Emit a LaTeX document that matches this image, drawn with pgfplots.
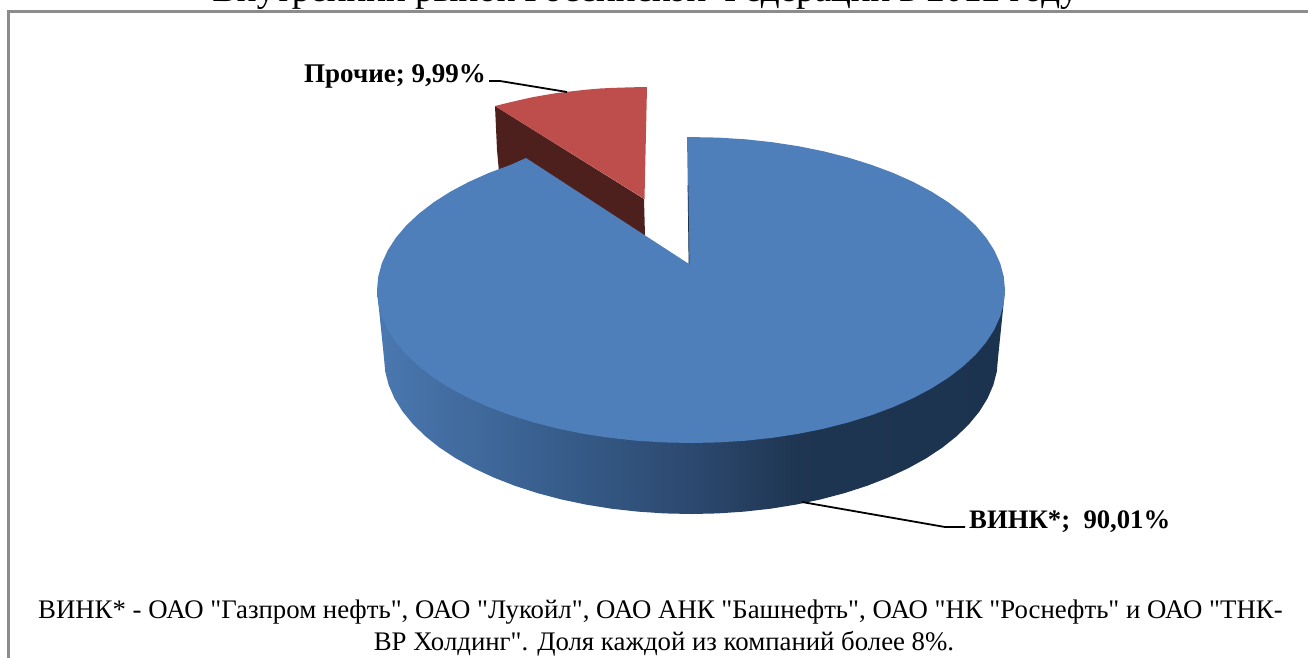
\documentclass[border=0pt]{standalone}
\usepackage{pgfplots}
\pgfplotsset{compat=1.18}
\usepackage{fontspec}
\setmainfont{Liberation Serif}
% no TeX ligatures here, the footnote has straight quotes
\newfontfamily\plainserif{Liberation Serif}

\definecolor{blueTop}{RGB}{78,127,187}
\definecolor{redTop}{RGB}{190,78,75}
\definecolor{redWall}{RGB}{77,31,29}
\definecolor{frameGray}{RGB}{140,140,140}
\definecolor{wallEdge}{RGB}{29,50,78}

% side of the big slice: lighter on the left, dark from about x=800
\pgfdeclarehorizontalshading{pieside}{100bp}{
  rgb(0bp)=(0.29,0.47,0.69);
  rgb(25bp)=(0.29,0.47,0.69);
  rgb(33.2bp)=(0.25,0.41,0.61);
  rgb(42.8bp)=(0.20,0.34,0.51);
  rgb(50.7bp)=(0.17,0.28,0.43);
  rgb(58.7bp)=(0.12,0.21,0.32);
  rgb(75bp)=(0.11,0.20,0.31);
  rgb(100bp)=(0.11,0.20,0.31)}

\begin{document}
\begin{tikzpicture}
  \useasboundingbox (0,0) rectangle (1308pt,657pt);
  \clip (0,0) rectangle (1308pt,657pt);
  \begin{axis}[
    at={(0,0)}, anchor=south west,
    scale only axis,
    width=1308pt, height=657pt,
    xmin=0, xmax=1308, ymin=0, ymax=657,
    y dir=reverse,
    hide axis,
    clip=false,
    ]

    % frame, only its left and top sides are inside the picture
    \addplot[frameGray, line width=2.5pt, no marks] coordinates {
      (8.5,670) (8.5,11.5) (1320,11.5)};

    % wall of the pulled out slice
    \addplot[fill=redWall, draw=none, no marks] coordinates {
      (495,106) (644,199) (645,236) (526,160) (499,172) (497,150)} --cycle;
    % top of the pulled out slice (9,99%)
    \addplot[fill=redTop, draw=none, no marks] coordinates {
      (495,106) (507,103) (520,100) (532,97.3) (545,95) (557,93) (570,91.5)
      (585,89.8) (600,88.5) (612,87.9) (625,87.5) (636,87.2) (647,87)
      (644.5,199)} --cycle;

    % side of the big slice
    \addplot[shade, shading=pieside, draw=none, no marks] coordinates {
      (377,290) (384,358) (385.2,371.6) (388.7,385.1) (394.5,398.4) (402.5,411.4)
      (412.8,423.9) (425.1,436) (439.5,447.5) (455.8,458.3) (473.9,468.3)
      (493.7,477.5) (514.9,485.8) (537.5,493.1) (561.3,499.4) (586,504.6)
      (611.5,508.7) (637.7,511.6) (664.2,513.4) (691,514) (717.8,513.4)
      (744.3,511.6) (770.5,508.7) (796,504.6) (820.7,499.4) (844.5,493.1)
      (867.1,485.8) (888.3,477.5) (908.1,468.3) (926.2,458.3) (942.5,447.5)
      (956.9,436) (969.2,423.9) (979.5,411.4) (987.5,398.4) (993.3,385.1)
      (996.8,371.6) (998,358) (1005,290)} --cycle;

    % top of the big slice (90,01%)
    \addplot[fill=blueTop, draw=none, no marks] coordinates {
      (687,137) (718.4,137.6) (745.5,139.3) (772.3,142.2) (798.4,146.2)
      (823.7,151.3) (848,157.5) (871.1,164.7) (892.8,172.8) (913,181.8)
      (931.5,191.6) (948.2,202.2) (962.9,213.5) (975.6,225.3) (986.1,237.7)
      (994.3,250.4) (1000.2,263.4) (1003.8,276.7) (1005,290)
      (1003.8,303.3) (1000.2,316.6) (994.3,329.6) (986.1,342.3) (975.6,354.7)
      (962.9,366.5) (948.2,377.8) (931.5,388.4) (913,398.2) (892.8,407.2)
      (871.1,415.3) (848,422.5) (823.7,428.7) (798.4,433.8) (772.3,437.8)
      (745.5,440.7) (718.4,442.4) (691,443)
      (663.6,442.4) (636.5,440.7) (609.7,437.8) (583.6,433.8) (558.3,428.7)
      (534,422.5) (510.9,415.3) (489.2,407.2) (469,398.2) (450.5,388.4)
      (433.8,377.8) (419.1,366.5) (406.4,354.7) (395.9,342.3) (387.7,329.6)
      (381.8,316.6) (378.2,303.3) (377,290)
      (378.2,276.7) (381.8,263.4) (387.7,250.4) (395.9,237.7) (406.4,225.3)
      (419.1,213.5) (433.8,202.2) (450.5,191.6) (469,181.8) (489.2,172.8)
      (510.9,164.7) (526,158) (689,264)} --cycle;
    \addplot[wallEdge, line width=0.7pt, no marks] coordinates {(688,185) (689,264)};

    % leader lines
    \addplot[black, line width=1.8pt, no marks] coordinates {(489,81) (500,81) (567,92)};
    \addplot[black, line width=1.8pt, no marks] coordinates {(802,502) (945,527) (965,527)};

    % labels
    \node[font=\fontsize{27}{31}\selectfont\bfseries, anchor=base west, inner sep=0pt] at (axis cs:304,82) {Прочие; 9,99\%};
    \node[font=\fontsize{26.7}{31}\selectfont\bfseries, anchor=base west, inner sep=0pt] at (axis cs:969,528) {ВИНК*;\ \ 90,01\%};

    % title, cut by the edge of the picture
    \node[font=\fontsize{37}{41}\selectfont, anchor=base] at (axis cs:645.5,1.5) {Внутренний рынок Российской Федерации в 2012 году};

    % footnote
    \node[font=\fontsize{26.8}{31}\plainserif\selectfont, anchor=base] at (axis cs:660.5,618) {ВИНК* - ОАО "Газпром нефть", ОАО "Лукойл", ОАО АНК "Башнефть", ОАО "НК "Роснефть" и ОАО "ТНК-};
    \node[font=\fontsize{26.8}{31}\plainserif\selectfont, anchor=base] at (axis cs:664,650) {ВР Холдинг". Доля каждой из компаний более 8\%.};
  \end{axis}
\end{tikzpicture}
\end{document}
